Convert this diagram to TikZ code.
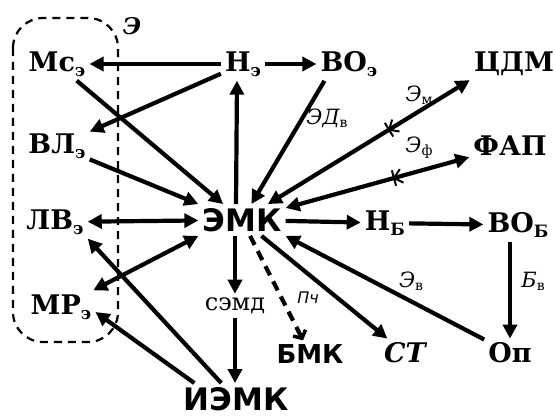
\documentclass[tikz,border=0pt]{standalone}
\usepackage{fontspec}
\setmainfont{DejaVu Serif}
\setsansfont{DejaVu Sans}
\usetikzlibrary{arrows.meta,decorations.markings}
\newcommand\sbx[1]{\raisebox{-5pt}{\fontsize{17}{17}\selectfont #1}}
\newcommand\sbs[1]{\raisebox{-3pt}{\fontsize{14}{14}\selectfont\upshape #1}}
\begin{document}
\begin{tikzpicture}[x=1pt,y=-1pt,
  lbl/.style={font=\fontsize{27}{30}\selectfont\bfseries, inner sep=4pt},
  bigl/.style={font=\fontsize{31}{34}\selectfont\sffamily\bfseries, inner sep=4pt},
  medl/.style={font=\fontsize{26}{28}\selectfont\sffamily\bfseries, inner sep=4pt},
  elab/.style={font=\fontsize{21}{22}\selectfont\itshape, inner sep=0pt},
  arr/.style={line width=4.2pt, -{Triangle[length=14pt,width=14pt]}},
  darr/.style={line width=4.2pt, {Triangle[length=14pt,width=14pt]}-{Triangle[length=14pt,width=14pt]}},
  crossmark/.style={postaction={decorate, decoration={markings, mark=at position #1 with {\draw[line width=2pt,-] (0pt,-8pt)--(0pt,8pt); \draw[line width=2pt,-] (8pt,-7pt)--(0pt,0pt)--(8pt,7pt);}}}}
]
\useasboundingbox (0,0) rectangle (555,417);
% dashed group box
\draw[line width=2.2pt, dash pattern=on 8pt off 6pt, rounded corners=30pt] (13,18) rectangle (118,342);
\node[font=\fontsize{23}{24}\selectfont\bfseries\itshape, inner sep=0pt] (lblE) at (132,26) {Э};
% nodes
\node[lbl] (ms)  at (57,64)  {Мс\sbx{э}};
\node[lbl] (ne)  at (243,64) {Н\sbx{э}};
\node[lbl] (voe) at (349,64) {ВО\sbx{э}};
\node[lbl] (cdm) at (514,64) {ЦДМ};
\node[lbl] (vle) at (57,146) {ВЛ\sbx{э}};
\node[lbl] (fap) at (510,146) {ФАП};
\node[lbl] (lve) at (55,222) {ЛВ\sbx{э}};
\node[bigl] (emk) at (242,220) {ЭМК};
\node[lbl] (nb)  at (385,223) {Н\sbx{Б}};
\node[lbl] (vob) at (518,225) {ВО\sbx{Б}};
\node[lbl] (mre) at (61,307) {МР\sbx{э}};
\node[font=\fontsize{24}{26}\selectfont, inner sep=4pt] (semd) at (235,306) {сэмд};
\node[medl] (bmk) at (310,354) {БМК};
\node[lbl, font=\fontsize{27}{30}\selectfont\bfseries\itshape] (st) at (405,353) {СТ};
\node[lbl] (op)  at (510,353) {Оп};
\node[bigl] (iemk) at (236,399) {ИЭМК};
% edges
\draw[arr] (ne) -- (ms);
\draw[arr] (ne) -- (voe);
\draw[arr] (ne) -- (vle);
\draw[arr] (ms) -- (emk);
\draw[arr] (vle) -- (emk.north west);
\draw[arr] ([xshift=-6pt]emk.north) -- ([xshift=-6pt]ne.south);
\draw[arr] ([xshift=8pt]voe.south west) -- (emk);
\draw[darr, crossmark=0.6] (emk) -- (cdm.south west);
\draw[darr, crossmark=0.59] (emk) -- (fap);
\draw[darr] (lve) -- (emk);
\draw[darr] (mre) -- (emk.south west);
\draw[arr] (iemk) -- (lve.south east);
\draw[arr] ([xshift=15pt]iemk.north west) -- ([yshift=-5pt]mre.east);
\draw[arr] (emk) -- (nb);
\draw[arr] (nb) -- (vob);
\draw[arr] ([xshift=-8pt]vob.south) -- (op.north);
\draw[arr] (op) -- (emk.south east);
\draw[arr] (emk) -- (st);
\draw[arr] (semd.north |- emk.south) -- (semd.north);
\draw[arr] (semd.south) -- (semd.south |- iemk.north);
\draw[line width=4.2pt, dash pattern=on 10pt off 7pt, -{Straight Barb[length=6pt,width=14pt,line width=3.5pt]}] (emk) -- (bmk);
% edge labels
\node[elab] (lED) at (327,118) {ЭД\sbs{в}};
\node[elab] (lEm) at (419,95) {Э\sbs{м}};
\node[elab] (lEf) at (419,148) {Э\sbs{ф}};
\node[elab] (lEv) at (411,281) {Э\sbs{в}};
\node[elab] (lBv) at (533,281) {Б\sbs{в}};
\node[elab, font=\fontsize{16}{17}\selectfont\sffamily\itshape] (lPch) at (308,298) {Пч};
\end{tikzpicture}
\end{document}
